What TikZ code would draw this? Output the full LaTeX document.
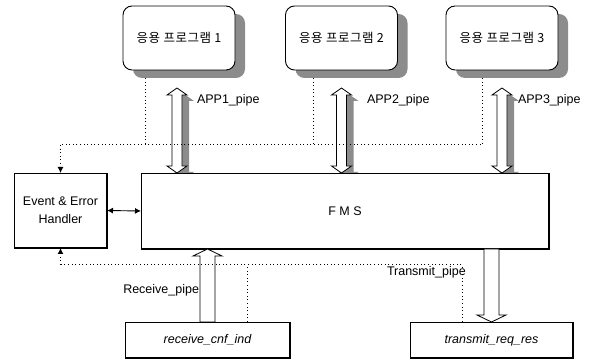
\documentclass[tikz,border=0pt]{standalone}
\usepackage{fontspec}
\setmainfont{Liberation Sans}
\newfontfamily\kr[LetterSpace=4]{Noto Sans CJK KR}
\usetikzlibrary{calc,arrows.meta}
\pgfdeclarelayer{bg}
\pgfsetlayers{bg,main}
% double-headed hollow block arrow: #1 top tip, #2 bottom tip, #3 style, #4 offset
\newcommand\dblarr[4]{%
  \path[#3] let \p1=($(#1)+(#4)$), \p2=($(#2)+(#4)$) in
    (\x1,\y1) -- ({\x1+10pt},{\y1-7pt}) -- ({\x1+5pt},{\y1-7pt}) -- ({\x1+5pt},{\y2+7pt})
    -- ({\x1+10pt},{\y2+7pt}) -- (\x1,\y2) -- ({\x1-10pt},{\y2+7pt}) -- ({\x1-5pt},{\y2+7pt})
    -- ({\x1-5pt},{\y1-7pt}) -- ({\x1-10pt},{\y1-7pt}) -- cycle;}
% single hollow block arrow: #1 tail, #2 tip (vertical)
\newcommand\sglarr[2]{%
  \path[hollow] let \p1=(#1), \p2=(#2), \n1={ifthenelse(\y2>\y1,1,-1)} in
    (\x1-7.5pt,\y1) -- ({\x1-7.5pt},{\y2-\n1*7pt}) -- ({\x1-14.5pt},{\y2-\n1*7pt}) -- (\x1,\y2)
    -- ({\x1+14.5pt},{\y2-\n1*7pt}) -- ({\x1+7.5pt},{\y2-\n1*7pt}) -- ({\x1+7.5pt},\y1) -- cycle;}
\begin{document}
\begin{tikzpicture}[x=1pt,y=-1pt,
  every node/.style={inner sep=0pt, outer sep=0pt},
  appbox/.style={draw, line width=0.9pt, rounded corners=9pt, fill=white,
    minimum width=112pt, minimum height=64pt, font=\kr\fontsize{12.5}{14}\selectfont},
  plainbox/.style={draw, line width=0.9pt, fill=white, font=\fontsize{12.5}{15}\selectfont},
  lbl/.style={font=\fontsize{12.5}{15}\selectfont},
  dotline/.style={line width=1pt, dash pattern=on 1pt off 2.6pt},
  shade/.style={fill=black!45},
  hollow/.style={draw, line width=0.8pt, fill=white},
  tip/.style={-{Latex[length=6pt,width=6pt]}},
]
\useasboundingbox (0,0) rectangle (597,363);

% application boxes
\node[appbox] (app1) at (179,38) {응용 프로그램 1};
\node[appbox] (app2) at (341.5,38) {응용 프로그램 2};
\node[appbox] (app3) at (502,38) {응용 프로그램 3};

% main boxes
\node[plainbox, minimum width=408pt, minimum height=76pt] (fms) at (345,211) {F M S};
\node[plainbox, minimum width=93pt, minimum height=75pt, align=center] (eh) at (60.5,210.5)
  {Event \& Error\\[3pt]Handler};
\node[plainbox, minimum width=165pt, minimum height=36pt] (rcv) at (207.5,340) {\itshape receive\_cnf\_ind};
\node[plainbox, minimum width=163pt, minimum height=36pt] (tx) at (491.5,340) {\itshape transmit\_req\_res};

% thick right/bottom edges
\foreach \n in {fms,eh,rcv,tx}
  \draw[line width=2.2pt] (\n.north east) -- (\n.south east) -- (\n.south west);

% app box shadows
\begin{pgfonlayer}{bg}
\foreach \n in {app1,app2,app3}
  \fill[shade, rounded corners=9pt] ($(\n.north west)+(10,8)$) rectangle ($(\n.south east)+(10,8)$);
\end{pgfonlayer}

% pipe arrows between applications and FMS
\coordinate (a1t) at ($(app1.south)+(-2,18)$);
\coordinate (a1b) at (a1t |- fms.north);
\coordinate (a2t) at ($(app2.south)+(0,18)$);
\coordinate (a2b) at (a2t |- fms.north);
\coordinate (a3t) at ($(app3.south)+(0,18)$);
\coordinate (a3b) at (a3t |- fms.north);
\begin{pgfonlayer}{bg}
\dblarr{a1t}{a1b}{shade}{7,6}
\dblarr{a2t}{a2b}{shade}{7,6}
\dblarr{a3t}{a3b}{shade}{7,6}
\end{pgfonlayer}
\dblarr{a1t}{a1b}{hollow}{0,0}
\dblarr{a2t}{a2b}{hollow}{0,0}
\dblarr{a3t}{a3b}{hollow}{0,0}

% receive / transmit pipes
\coordinate (rt) at (rcv.north |- fms.south);
\sglarr{rcv.north}{rt}
\coordinate (tt) at (tx.north |- fms.south);
\sglarr{tt}{tx.north}

% dotted event lines (top)
\coordinate (d1) at ($(app1.south west)+(22,8)$);
\coordinate (d2) at ($(app2.south west)+(28,8)$);
\coordinate (d3) at ($(app3.south west)+(36,8)$);
\coordinate (busT) at ($(eh.north)+(0,-28)$);
\draw[dotline] (d3) |- (busT);
\draw[dotline] (d1) -- (d1 |- busT);
\draw[dotline] (d2) -- (d2 |- busT);
\draw[dotline, tip] (busT) -- (eh.north);

% dotted event lines (bottom)
\coordinate (r1) at ($(rcv.north west)+(122,0)$);
\coordinate (t1) at ($(tx.north west)+(52,0)$);
\coordinate (busB) at ($(eh.south)+(0,17)$);
\draw[dotline] (t1) |- (busB);
\draw[dotline] (r1) -- (r1 |- busB);
\draw[dotline, tip] (busB) -- (eh.south);

% event handler <-> FMS
\draw[line width=0.9pt, {Latex[length=6pt,width=6pt]}-{Latex[length=6pt,width=6pt]}] (eh.east) -- (fms.west);

% labels
\node[lbl, anchor=west] (l1) at (197,100) {APP1\_pipe};
\node[lbl, anchor=west] (l2) at (367,100) {APP2\_pipe};
\node[lbl, anchor=west] (l3) at (518,100) {APP3\_pipe};
\node[lbl, anchor=east] (lr) at (199,290) {Receive\_pipe};
\node[lbl, anchor=west] (lt) at (387,272) {Transmit\_pipe};
\end{tikzpicture}
\end{document}
